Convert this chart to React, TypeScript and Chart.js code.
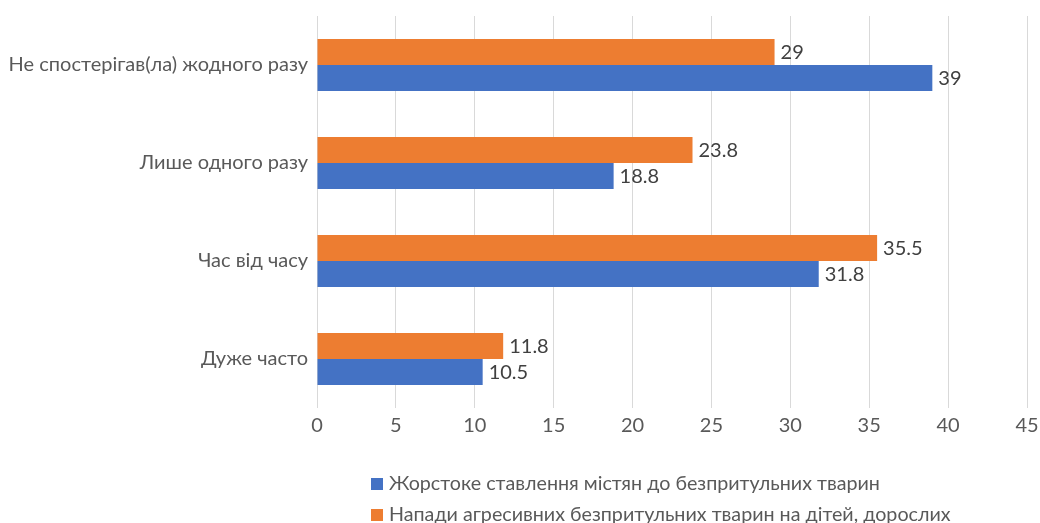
import React, { useEffect, useRef } from "react";
import { Chart, registerables } from "chart.js";

Chart.register(...registerables);

const categories = ["Не спостерігав(ла) жодного разу", "Лише одного разу", "Час від часу", "Дуже часто"];
const crueltyLabel = "Жорстоке ставлення містян до безпритульних тварин";
const attackLabel = "Напади агресивних безпритульних тварин на дітей, дорослих";
const crueltyValues = [39, 18.8, 31.8, 10.5];
const attackValues = [29, 23.8, 35.5, 11.8];
const xMin = 0;
const xMax = 45;
const xStep = 5;

const BLUE = "#4472C4";
const ORANGE = "#ED7D31";
const FONT = "Lato";
const FONT_SIZE = 20;

const W = 1040;
const H = 545;

export default function App() {
  const ref = useRef<HTMLCanvasElement | null>(null);
  useEffect(() => {
    if (!ref.current) return;
    const valueLabels = {
      id: "valueLabels",
      afterDatasetsDraw(chart: any) {
        const ctx = chart.ctx;
        ctx.save();
        ctx.font = `${FONT_SIZE}px ${FONT}`;
        ctx.fillStyle = "#404040";
        ctx.textAlign = "left";
        ctx.textBaseline = "middle";
        chart.data.datasets.forEach((ds: any, di: number) => {
          const meta = chart.getDatasetMeta(di);
          meta.data.forEach((bar: any, i: number) => {
            ctx.fillText(String(ds.data[i]), bar.x + 6, bar.y + 1);
          });
        });
        ctx.restore();
      },
    };
    const customLegend = {
      id: "customLegend",
      afterDraw(chart: any) {
        const ctx = chart.ctx;
        const items = [
          { text: crueltyLabel, color: BLUE },
          { text: attackLabel, color: ORANGE },
        ];
        ctx.save();
        ctx.font = `19.7px ${FONT}`;
        ctx.textAlign = "left";
        ctx.textBaseline = "middle";
        const x0 = 371;
        let y = 484;
        items.forEach((it) => {
          ctx.fillStyle = it.color;
          ctx.fillRect(x0, y - 6, 12, 12);
          ctx.fillStyle = "#595959";
          ctx.fillText(it.text, x0 + 18, y);
          y += 31;
        });
        ctx.restore();
      },
    };
    const chart = new Chart(ref.current, {
      type: "bar",
      data: {
        labels: categories,
        datasets: [
          { label: attackLabel, data: attackValues, backgroundColor: ORANGE, categoryPercentage: 0.53, barPercentage: 1 },
          { label: crueltyLabel, data: crueltyValues, backgroundColor: BLUE, categoryPercentage: 0.53, barPercentage: 1 },
        ],
      },
      options: {
        indexAxis: "y",
        responsive: false,
        animation: false,
        layout: { padding: { left: 0, top: 16, right: 13, bottom: H - 408 - 40 } },
        plugins: { legend: { display: false }, tooltip: { enabled: false } },
        scales: {
          x: {
            min: xMin,
            max: xMax,
            ticks: { stepSize: xStep, color: "#595959", font: { family: FONT, size: FONT_SIZE }, padding: 6 },
            grid: { color: "#D9D9D9", drawTicks: false, lineWidth: 1 },
            border: { display: false },
            afterFit: (s: any) => { s.height = 40; s.paddingLeft = 0; s.paddingRight = 0; },
          },
          y: {
            ticks: { color: "#595959", font: { family: FONT, size: FONT_SIZE }, padding: 9 },
            grid: { display: false, drawTicks: false },
            border: { display: false },
            afterFit: (s: any) => { s.width = 317; s.paddingTop = 0; s.paddingBottom = 0; },
          },
        },
      },
      plugins: [valueLabels, customLegend],
    });
    return () => chart.destroy();
  }, []);
  return (
    <div style={{ position: "fixed", left: 0, top: 0, width: W, height: 523, overflow: "hidden", background: "#fff" }}>
      <canvas ref={ref} width={W} height={H} style={{ width: W, height: H, display: "block" }} />
    </div>
  );
}
